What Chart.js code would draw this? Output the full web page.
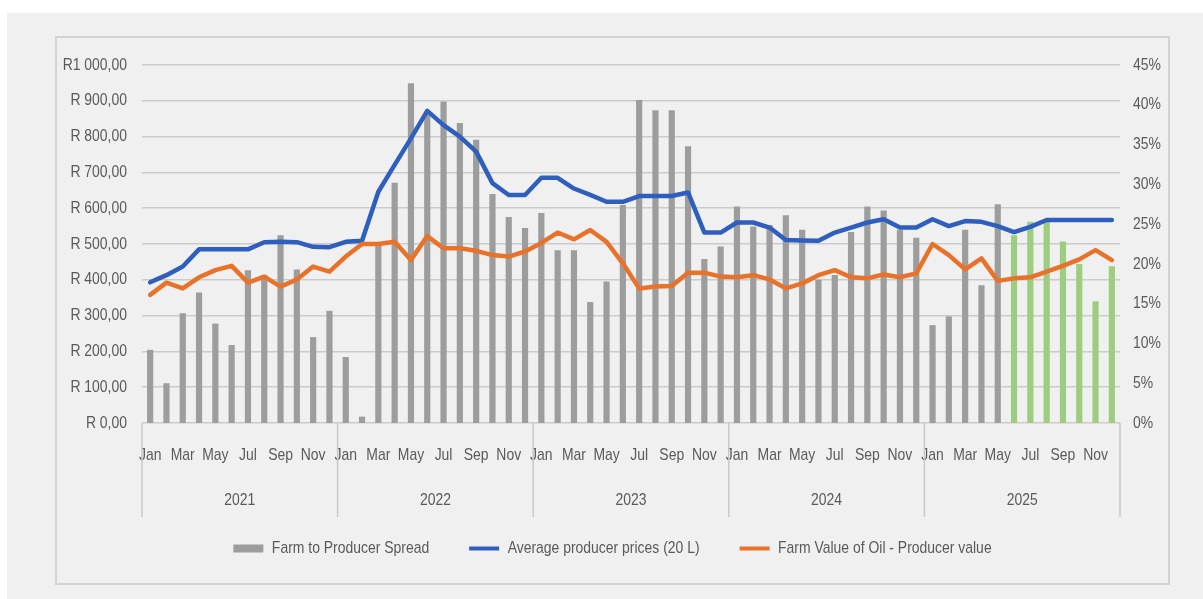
<!DOCTYPE html>
<html>
<head>
<meta charset="utf-8">
<script src="https://cdn.jsdelivr.net/npm/chart.js@4.4.1/dist/chart.umd.min.js"></script>
<style>
  html, body { margin: 0; padding: 0; background: #ffffff; }
  #panel { position: absolute; left: 7px; top: 13px; width: 1196px; height: 586px; background: #f0f0f0; }
  #box { position: absolute; left: 48px; top: 23px; width: 1111px; height: 545px; border: 2px solid #d3d3d3; background: #f0f0f0; }
  canvas { display: block; }
</style>
</head>
<body>
<div id="panel">
  <div id="box"><canvas id="chart" width="1111" height="545"></canvas></div>
</div>
<script>
// Categories
const years = ['2021', '2022', '2023', '2024', '2025'];
const monthNames = ['Jan', 'Feb', 'Mar', 'Apr', 'May', 'Jun', 'Jul', 'Aug', 'Sep', 'Oct', 'Nov', 'Dec'];
const months = years.flatMap(() => monthNames);

// Farm to producer spread (% of producer price)
const spreadPct = [
  9.2, 5.0, 13.8, 16.4, 12.5, 9.8, 19.2, 18.6, 23.6, 19.3, 10.8, 14.1,
  8.3, 0.8, 22.4, 30.2, 42.7, 39.1, 40.4, 37.7, 35.6, 28.8, 25.9, 24.5,
  26.4, 21.7, 21.7, 15.2, 17.8, 27.4, 40.6, 39.3, 39.3, 34.8, 20.6, 22.2,
  27.2, 24.7, 24.9, 26.1, 24.3, 18.0, 18.6, 24.0, 27.2, 26.7, 24.3, 23.3,
  12.3, 13.4, 24.3, 17.3, 27.5, 23.6, 25.3, 25.3, 22.8, 20.0, 15.3, 19.7
];

// Average producer prices, 20 L (Rand)
const producerPrice = [
  393, 413, 437, 485, 485, 485, 485, 505, 506, 505, 492, 491,
  506, 509, 646, 721, 795, 872, 832, 800, 758, 670, 637, 637,
  685, 685, 655, 637, 618, 618, 634, 634, 634, 644, 532, 532,
  560, 560, 546, 511, 510, 509, 532, 546, 560, 569, 546, 546,
  569, 550, 564, 562, 550, 533, 548, 567, 567, 567, 567, 567
];

// Farm value of oil - producer value (Rand)
const farmValue = [
  358, 392, 376, 407, 427, 439, 392, 409, 381, 401, 437, 423,
  465, 500, 500, 506, 455, 522, 488, 488, 481, 469, 465, 479,
  503, 532, 513, 539, 506, 446, 376, 381, 383, 420, 420, 409,
  407, 413, 401, 376, 390, 413, 427, 407, 404, 415, 407, 418,
  500, 469, 429, 460, 397, 404, 407, 423, 439, 457, 483, 455
];

// Tick labels
const randTicks = ['R 0,00', 'R 100,00', 'R 200,00', 'R 300,00', 'R 400,00', 'R 500,00',
  'R 600,00', 'R 700,00', 'R 800,00', 'R 900,00', 'R1 000,00'];

// Months from June 2025 onward are shown as projections
const firstProjected = 53;

// Condensed lettering: every label is set at 82% of its natural width
const CONDENSE = 0.82;
(() => {
  const proto = CanvasRenderingContext2D.prototype;
  const measure = proto.measureText;
  const fill = proto.fillText;
  proto.measureText = function (text) {
    const m = measure.call(this, text);
    return {
      width: m.width * CONDENSE,
      actualBoundingBoxAscent: m.actualBoundingBoxAscent,
      actualBoundingBoxDescent: m.actualBoundingBoxDescent,
      actualBoundingBoxLeft: m.actualBoundingBoxLeft * CONDENSE,
      actualBoundingBoxRight: m.actualBoundingBoxRight * CONDENSE,
      fontBoundingBoxAscent: m.fontBoundingBoxAscent,
      fontBoundingBoxDescent: m.fontBoundingBoxDescent
    };
  };
  proto.fillText = function (text, x, y, maxWidth) {
    const w = measure.call(this, text).width * CONDENSE;
    return fill.call(this, text, x, y, maxWidth !== undefined ? Math.min(maxWidth, w) : w);
  };
})();

const FONT = "'Liberation Sans', Arial, sans-serif";
const FS = 17;
const TEXT = '#5a5a5a';
const GREY = '#9d9d9d', GREEN = '#9fcd80', BLUE = '#2f5fbe', ORANGE = '#e9722a';

// Year row and year separators below the month labels
const yearAxis = {
  id: 'yearAxis',
  afterDraw(chart) {
    const { ctx, chartArea, scales: { x } } = chart;
    const step = x.getPixelForValue(1) - x.getPixelForValue(0);
    ctx.save();
    ctx.strokeStyle = '#c8c8c8';
    ctx.lineWidth = 1.5;
    for (let k = 0; k <= years.length; k++) {
      const px = x.getPixelForValue(k * 12) - step / 2;
      ctx.beginPath();
      ctx.moveTo(px, chartArea.bottom);
      ctx.lineTo(px, chartArea.bottom + 94);
      ctx.stroke();
    }
    ctx.fillStyle = TEXT;
    ctx.font = FS + 'px ' + FONT;
    ctx.textAlign = 'center';
    ctx.textBaseline = 'middle';
    years.forEach((yr, k) => {
      const cx = (x.getPixelForValue(k * 12) + x.getPixelForValue(k * 12 + 11)) / 2;
      ctx.fillText(yr, cx, chartArea.bottom + 77);
    });
    ctx.restore();
  }
};

new Chart(document.getElementById('chart'), {
  data: {
    labels: months,
    datasets: [
      {
        type: 'bar',
        label: 'Farm to Producer Spread',
        data: spreadPct,
        yAxisID: 'y1',
        backgroundColor: spreadPct.map((_, i) => i >= firstProjected ? GREEN : GREY),
        legendColor: GREY,
        barPercentage: 0.38,
        categoryPercentage: 1,
        order: 3
      },
      {
        type: 'line',
        label: 'Average producer prices (20 L)',
        data: producerPrice,
        yAxisID: 'y',
        borderColor: BLUE,
        backgroundColor: BLUE,
        legendColor: BLUE,
        borderWidth: 4.5,
        pointRadius: 0,
        tension: 0,
        borderJoinStyle: 'round',
        borderCapStyle: 'round',
        order: 2
      },
      {
        type: 'line',
        label: 'Farm Value of Oil - Producer value',
        data: farmValue,
        yAxisID: 'y',
        borderColor: ORANGE,
        backgroundColor: ORANGE,
        legendColor: ORANGE,
        borderWidth: 4.5,
        pointRadius: 0,
        tension: 0,
        borderJoinStyle: 'round',
        borderCapStyle: 'round',
        order: 1
      }
    ]
  },
  plugins: [yearAxis],
  options: {
    responsive: false,
    animation: false,
    layout: { padding: { top: 27, bottom: 16, left: 0, right: 0 } },
    plugins: {
      tooltip: { enabled: false },
      legend: {
        position: 'bottom',
        labels: {
          font: { family: FONT, size: FS },
          color: TEXT,
          usePointStyle: true,
          pointStyleWidth: 30,
          boxHeight: 8,
          padding: 40,
          generateLabels: (chart) => chart.data.datasets.map((ds, i) => ({
            text: ds.label,
            datasetIndex: i,
            fillStyle: ds.legendColor,
            strokeStyle: ds.legendColor,
            lineWidth: ds.type === 'line' ? 4 : 0,
            pointStyle: ds.type === 'line' ? 'line' : 'rect',
            fontColor: TEXT,
            hidden: false
          }))
        }
      }
    },
    scales: {
      x: {
        grid: { display: false, drawTicks: false },
        border: { display: false },
        ticks: {
          autoSkip: false,
          maxRotation: 0,
          padding: 22,
          color: TEXT,
          font: { family: FONT, size: FS },
          callback: (v, i) => (i % 2 === 0 ? months[i] : '')
        },
        afterFit: (s) => { s.height = 77; }
      },
      y: {
        position: 'left',
        min: 0,
        max: 1000,
        afterBuildTicks: (s) => { s.ticks = randTicks.map((_, i) => ({ value: i * 100 })); },
        grid: { color: '#cbcbcb', lineWidth: 1.5, drawTicks: false },
        border: { display: false },
        ticks: {
          padding: 15,
          color: TEXT,
          font: { family: FONT, size: FS },
          callback: (v, i) => randTicks[i]
        },
        afterFit: (s) => { s.width = 85; }
      },
      y1: {
        position: 'right',
        min: 0,
        max: 45,
        ticks: {
          stepSize: 5,
          padding: 13,
          color: TEXT,
          font: { family: FONT, size: FS },
          callback: (v) => v + '%'
        },
        grid: { display: false, drawTicks: false },
        border: { display: false },
        afterFit: (s) => { s.width = 48; }
      }
    }
  }
});
</script>
</body>
</html>
